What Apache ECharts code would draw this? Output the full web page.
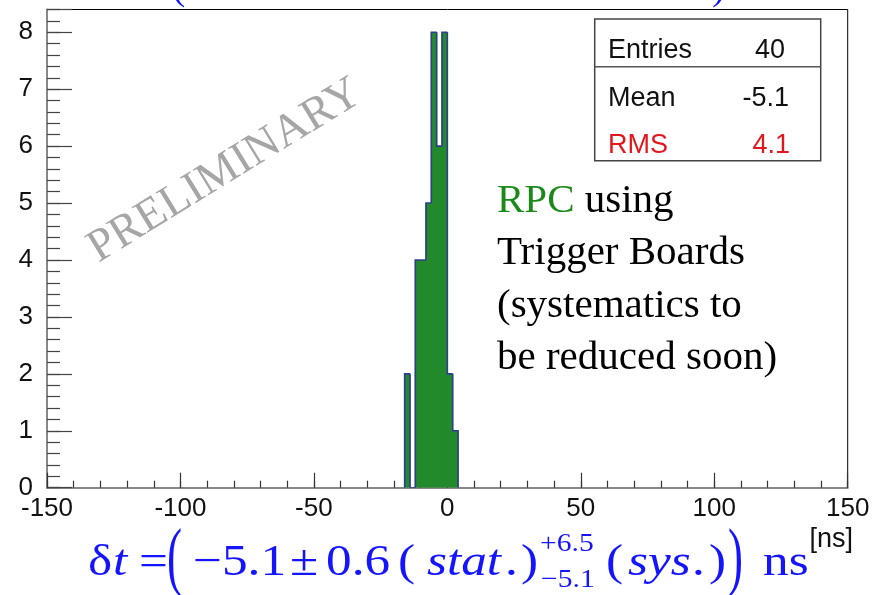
<!DOCTYPE html>
<html>
<head>
<meta charset="utf-8">
<script src="https://cdn.jsdelivr.net/npm/echarts@6/dist/echarts.min.js"></script>
<style>
  html, body { margin: 0; padding: 0; background: #ffffff; }
  #chart { width: 881px; height: 595px; }
</style>
</head>
<body>
<div id="chart"></div>
<script>
// Histogram of the time offset (ns), 2 ns bins
const binLow = [-16, -14, -12, -10, -8, -6, -4, -2, 0, 2];
const binWidth = 2;
const binCounts = [2, 0, 4, 4, 5, 8, 6, 8, 2, 1];

// Axis ranges and tick steps
const xRange = [-150, 150];
const xMajorStep = 50;
const xMinorStep = 10;
const yRange = [0, 8.4];
const yMajorStep = 1;
const yMinorStep = 0.2;

// Statistics box
const statNames = ['Entries', 'Mean', 'RMS'];
const statValues = ['40', '-5.1', '4.1'];

const FILL = '#228a2b';
const OUTLINE = '#2e3d8f';
const BLUE = '#1414ff';
const SERIF = '"Liberation Serif", "Times New Roman", serif';
const SANS = '"Liberation Sans", Arial, sans-serif';

const histData = binLow.map((x, i) => [
  x, x + binWidth, binCounts[i],
  i > 0 ? binCounts[i - 1] : 0,
  i === binLow.length - 1 ? 1 : 0
]);

const chart = echarts.init(document.getElementById('chart'), null, { renderer: 'canvas' });

// filled area of one bin
function renderFill(params, api) {
  const x0 = api.value(0), x1 = api.value(1), c = api.value(2);
  if (!(c > 0)) return null;
  const base = api.coord([x0, 0]);
  const top = api.coord([x1, c]);
  return {
    type: 'rect',
    shape: { x: base[0] - 0.5, y: top[1], width: top[0] - base[0] + 1, height: base[1] - top[1] },
    style: { fill: FILL }
  };
}

// step outline of one bin: rising/falling edge on the left, flat top
function renderOutline(params, api) {
  const x0 = api.value(0), x1 = api.value(1), c = api.value(2), prev = api.value(3), last = api.value(4);
  const base = api.coord([x0, 0]);
  const top = api.coord([x1, c]);
  const prevPt = api.coord([x0, prev]);
  const pts = [[prevPt[0], prevPt[1]], [base[0], top[1]], [top[0], top[1]]];
  if (last) pts.push([top[0], base[1]]);
  return {
    type: 'polyline',
    shape: { points: pts },
    style: { stroke: OUTLINE, lineWidth: 1.6, fill: null }
  };
}

const tickLabelStyle = { fontFamily: SANS, fontSize: 26, color: '#111' };

// text placed by its baseline
function textAt(x, baseline, text, style, extra) {
  const size = style.fontSize;
  return Object.assign({
    type: 'text', x, y: baseline - 0.79 * size, z: 6,
    style: Object.assign({ text, verticalAlign: 'top' }, style)
  }, extra || {});
}

// formula glyphs are a little wider than plain Times
const FX = { scaleX: 1.14 };
const formulaStyle = { fontFamily: SERIF, fontSize: 45, fill: BLUE };
const formulaItalic = Object.assign({}, formulaStyle, { fontStyle: 'italic' });
const scriptStyle = Object.assign({}, formulaStyle, { fontSize: 26 });
const statStyle = { fontFamily: SANS, fontSize: 27, fill: '#111' };
const statRight = Object.assign({}, statStyle, { align: 'right' });
const statRed = Object.assign({}, statStyle, { fill: '#e3161e' });
const statRedRight = Object.assign({}, statRed, { align: 'right' });
const noteStyle = { fontFamily: SERIF, fontSize: 41, fill: '#000' };

const FB = 576; // formula baseline

function bigParen(x, ch) {
  return {
    type: 'text', x, y: 561, scaleY: 1.7, z: 6,
    style: { text: ch, fontFamily: SERIF, fontSize: 45, fill: BLUE, verticalAlign: 'middle' }
  };
}

const option = {
  animation: false,
  backgroundColor: '#ffffff',
  grid: {
    left: 47, top: 9.5, width: 800.7, height: 478.2,
    show: true, borderColor: '#000', borderWidth: 1, backgroundColor: 'transparent'
  },
  xAxis: [
    {
      type: 'value', min: xRange[0], max: xRange[1], interval: xMajorStep,
      axisLine: { show: true, onZero: false, lineStyle: { color: '#888', width: 2 } },
      axisTick: { show: true, inside: true, length: 15, lineStyle: { color: '#333', width: 1.2 } },
      axisLabel: Object.assign({ margin: 8 }, tickLabelStyle),
      splitLine: { show: false }
    },
    {
      type: 'value', min: xRange[0], max: xRange[1], interval: xMinorStep, position: 'bottom',
      axisLine: { show: false, onZero: false },
      axisTick: { show: true, inside: true, length: 7, lineStyle: { color: '#333', width: 1.2 } },
      axisLabel: { show: false },
      splitLine: { show: false }
    }
  ],
  yAxis: [
    {
      type: 'value', min: yRange[0], max: yRange[1], interval: yMajorStep,
      axisLine: { show: true, onZero: false, lineStyle: { color: '#888', width: 2 } },
      axisTick: { show: true, inside: true, length: 25, lineStyle: { color: '#444', width: 1.2 } },
      axisLabel: Object.assign({
        margin: 14,
        formatter: v => (Math.abs(v - Math.round(v)) < 1e-6 ? String(Math.round(v)) : '')
      }, tickLabelStyle),
      splitLine: { show: false }
    },
    {
      type: 'value', min: yRange[0], max: yRange[1], interval: yMinorStep, position: 'left',
      axisLine: { show: false, onZero: false },
      axisTick: { show: true, inside: true, length: 13, lineStyle: { color: '#444', width: 1.2 } },
      axisLabel: { show: false },
      splitLine: { show: false }
    }
  ],
  series: [
    {
      type: 'custom', xAxisIndex: 0, yAxisIndex: 0,
      renderItem: renderFill, data: histData,
      encode: { x: [0, 1], y: 2 }, clip: true, z: 3
    },
    {
      type: 'custom', xAxisIndex: 0, yAxisIndex: 0,
      renderItem: renderOutline, data: histData,
      encode: { x: [0, 1], y: 2 }, clip: true, z: 4
    }
  ],
  graphic: [
    // title parentheses, mostly above the page edge
    textAt(172, 0, '(', Object.assign({}, formulaStyle, { fontSize: 40 })),
    textAt(712, 0, ')', Object.assign({}, formulaStyle, { fontSize: 40 })),

    // watermark
    {
      type: 'text', x: 225, y: 171, rotation: 0.55,
      style: { text: 'PRELIMINARY', fontFamily: SERIF, fontSize: 46, fill: '#a6a6a6', align: 'center', verticalAlign: 'middle' },
      z: 1
    },

    // statistics box
    {
      type: 'rect', shape: { x: 594.7, y: 19, width: 226, height: 141.7 },
      style: { fill: '#fff', stroke: '#444', lineWidth: 1.5 }, z: 5
    },
    {
      type: 'line', shape: { x1: 594.7, y1: 66.7, x2: 820.7, y2: 66.7 },
      style: { stroke: '#555', lineWidth: 1.5 }, z: 6
    },
    textAt(608, 58, statNames[0], statStyle),
    textAt(785, 58, statValues[0], statRight),
    textAt(608, 106, statNames[1], statStyle),
    textAt(789, 106, statValues[1], statRight),
    textAt(608, 153, statNames[2], statRed),
    textAt(790, 153, statValues[2], statRedRight),

    // annotation
    textAt(497, 213, '{g|RPC} using', Object.assign({}, noteStyle, {
      rich: { g: { fontFamily: SERIF, fontSize: 41, fill: '#1b8a1b' } }
    })),
    textAt(497, 265, 'Trigger Boards', noteStyle),
    textAt(497, 318, '(systematics to', noteStyle),
    textAt(497, 370, 'be reduced soon)', noteStyle),

    // axis unit
    { type: 'text', x: 853, y: 526, z: 6, style: { text: '[ns]', fontFamily: SANS, fontSize: 27, fill: '#111', align: 'right', verticalAlign: 'top' } },

    // result formula
    textAt(88, FB, 'δ', formulaStyle, FX),
    textAt(113, FB, 't', formulaItalic, FX),
    textAt(139, FB, '=', formulaStyle, FX),
    bigParen(167, '('),
    textAt(193, FB, '−5.1', formulaStyle, FX),
    textAt(290, FB, '±', formulaStyle, FX),
    textAt(326, FB, '0.6', formulaStyle, FX),
    textAt(398, FB, '(', formulaStyle, FX),
    textAt(427, FB, 'stat', formulaItalic, FX),
    textAt(505, FB, '.', formulaStyle, FX),
    textAt(521, FB, ')', formulaStyle, FX),
    textAt(540, 552, '+6.5', scriptStyle, FX),
    textAt(541, 588, '−5.1', scriptStyle, FX),
    textAt(606, FB, '(', formulaStyle, FX),
    textAt(628, FB, 'sys', formulaItalic, FX),
    textAt(692, FB, '.', formulaStyle, FX),
    textAt(709, FB, ')', formulaStyle, FX),
    bigParen(728, ')'),
    textAt(763, FB, 'ns', formulaStyle, FX)
  ]
};

chart.setOption(option);
</script>
</body>
</html>
